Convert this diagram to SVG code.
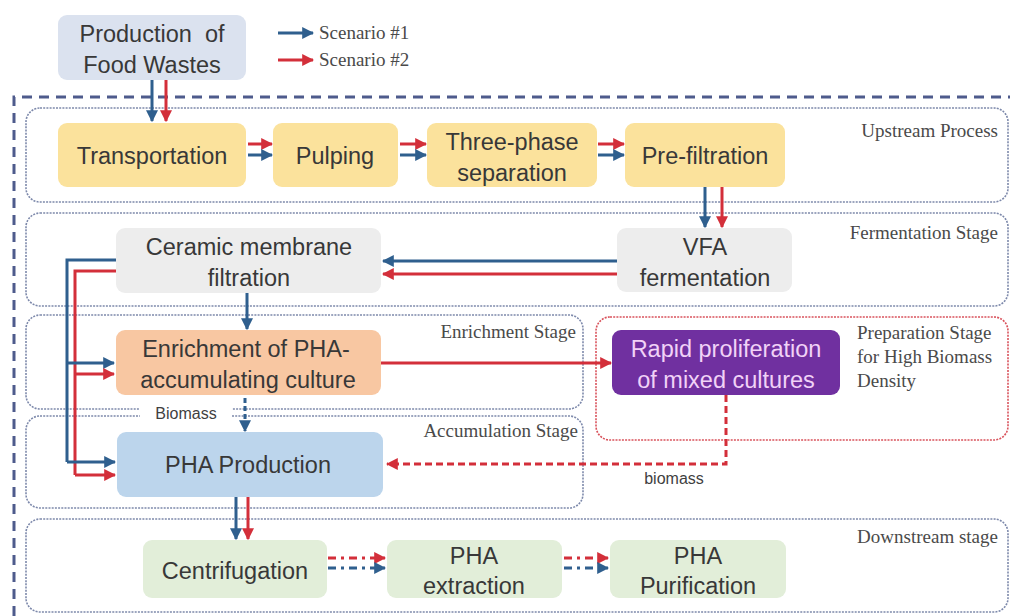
<svg xmlns="http://www.w3.org/2000/svg" width="1010" height="616" viewBox="0 0 1010 616">
  <defs>
    <marker id="ah-blue" viewBox="0 0 10 10" refX="9" refY="5" markerWidth="4" markerHeight="4" orient="auto" markerUnits="strokeWidth">
      <path d="M0,0 L10,5 L0,10 z" fill="#2f5f8e"/>
    </marker>
    <marker id="ah-red" viewBox="0 0 10 10" refX="9" refY="5" markerWidth="4" markerHeight="4" orient="auto" markerUnits="strokeWidth">
      <path d="M0,0 L10,5 L0,10 z" fill="#d32f3a"/>
    </marker>
  </defs>
  <style>
    .panel { fill: none; stroke: #7d89ab; stroke-width: 1.6; stroke-dasharray: 2 1.2; }
    .panel-red { fill: none; stroke: #d9535c; stroke-width: 1.6; stroke-dasharray: 2 1.2; }
    .outer { fill: none; stroke: #4e5b8c; stroke-width: 3; stroke-dasharray: 10 7; }
    .stage { font-family: "Liberation Serif", serif; font-size: 19px; fill: #4a4a4a; }
    .lbl { font-family: "Liberation Sans", Arial, sans-serif; font-size: 23.5px; fill: #383838; text-anchor: middle; }
    .lbl-light { fill: #f1d2f7; }
    .small { font-family: "Liberation Sans", Arial, sans-serif; font-size: 16px; fill: #3f3f3f; text-anchor: middle; }
    .b { fill: none; stroke: #2f5f8e; stroke-width: 3; }
    .r { fill: none; stroke: #d32f3a; stroke-width: 3; }
    .ba { marker-end: url(#ah-blue); }
    .ra { marker-end: url(#ah-red); }
    .dash { stroke-dasharray: 7 4; }
    .dashdot { stroke-dasharray: 8 5 3 5; }
  </style>

  <!-- stage panels -->
  <g id="panels">
    <path class="outer" d="M14,616 V97 H1010"/>
    <rect class="panel" x="26" y="108" width="982" height="94" rx="14"/>
    <rect class="panel" x="26" y="213" width="982" height="93" rx="14"/>
    <rect class="panel" x="26" y="315" width="557" height="94" rx="14"/>
    <rect class="panel" x="26" y="416" width="557" height="92" rx="14"/>
    <rect class="panel-red" x="596" y="317" width="412" height="123" rx="14"/>
    <rect class="panel" x="26" y="519" width="982" height="93" rx="14"/>
    <text class="stage" x="998" y="137" text-anchor="end">Upstream Process</text>
    <text class="stage" x="998" y="239" text-anchor="end">Fermentation Stage</text>
    <text class="stage" x="576" y="338" text-anchor="end">Enrichment Stage</text>
    <text class="stage" x="578" y="437" text-anchor="end">Accumulation Stage</text>
    <text class="stage" x="857" y="339">Preparation Stage</text>
    <text class="stage" x="857" y="363">for High Biomass</text>
    <text class="stage" x="857" y="387">Density</text>
    <text class="stage" x="998" y="543" text-anchor="end">Downstream stage</text>
  </g>

  <!-- legend -->
  <g id="legend">
    <line class="b ba" x1="278" y1="33" x2="313" y2="33" stroke-width="2.5"/>
    <line class="r ra" x1="278" y1="60" x2="313" y2="60" stroke-width="2.5"/>
    <text class="stage" x="319" y="39">Scenario #1</text>
    <text class="stage" x="319" y="66">Scenario #2</text>
  </g>

  <!-- nodes -->
  <g id="food-wastes">
    <rect x="58" y="15" width="188" height="65" rx="9" fill="#dbe2ef"/>
    <text class="lbl" x="152" y="42">Production&#160; of</text>
    <text class="lbl" x="152" y="73">Food Wastes</text>
  </g>
  <g id="transportation">
    <rect x="58" y="123" width="188" height="64" rx="9" fill="#fbe29c"/>
    <text class="lbl" x="152" y="164">Transportation</text>
  </g>
  <g id="pulping">
    <rect x="273" y="123" width="125" height="64" rx="9" fill="#fbe29c"/>
    <text class="lbl" x="335" y="164">Pulping</text>
  </g>
  <g id="three-phase">
    <rect x="427" y="123" width="170" height="64" rx="9" fill="#fbe29c"/>
    <text class="lbl" x="512" y="150">Three-phase</text>
    <text class="lbl" x="512" y="181">separation</text>
  </g>
  <g id="pre-filtration">
    <rect x="625" y="123" width="160" height="64" rx="9" fill="#fbe29c"/>
    <text class="lbl" x="705" y="164">Pre-filtration</text>
  </g>
  <g id="ceramic">
    <rect x="116" y="228" width="265" height="65" rx="9" fill="#ededed"/>
    <text class="lbl" x="249" y="255">Ceramic membrane</text>
    <text class="lbl" x="249" y="286">filtration</text>
  </g>
  <g id="vfa">
    <rect x="617" y="228" width="175" height="64" rx="9" fill="#ededed"/>
    <text class="lbl" x="705" y="255">VFA</text>
    <text class="lbl" x="705" y="286">fermentation</text>
  </g>
  <g id="enrichment">
    <rect x="116" y="330" width="265" height="65" rx="9" fill="#f8c7a2"/>
    <text class="lbl" x="246" y="357">Enrichment of PHA-</text>
    <text class="lbl" x="248" y="388">accumulating culture</text>
  </g>
  <g id="rapid">
    <rect x="612" y="330" width="228" height="65" rx="9" fill="#7030a0"/>
    <text class="lbl lbl-light" x="726" y="357">Rapid proliferation</text>
    <text class="lbl lbl-light" x="726" y="388">of mixed cultures</text>
  </g>
  <g id="pha-production">
    <rect x="117" y="432" width="266" height="65" rx="9" fill="#bcd5ec"/>
    <text class="lbl" x="248" y="473">PHA Production</text>
  </g>
  <g id="centrifugation">
    <rect x="143" y="540" width="184" height="58" rx="9" fill="#e2eed9"/>
    <text class="lbl" x="235" y="579">Centrifugation</text>
  </g>
  <g id="extraction">
    <rect x="387" y="540" width="175" height="58" rx="9" fill="#e2eed9"/>
    <text class="lbl" x="474" y="564">PHA</text>
    <text class="lbl" x="474" y="594">extraction</text>
  </g>
  <g id="purification">
    <rect x="610" y="540" width="176" height="58" rx="9" fill="#e2eed9"/>
    <text class="lbl" x="698" y="564">PHA</text>
    <text class="lbl" x="698" y="594">Purification</text>
  </g>

  <!-- connectors -->
  <g id="connectors">
    <line class="b ba" x1="152" y1="80" x2="152" y2="121"/>
    <line class="r ra" x1="166" y1="80" x2="166" y2="121"/>

    <line class="r ra" x1="248" y1="144" x2="272" y2="144"/>
    <line class="b ba" x1="248" y1="155" x2="272" y2="155"/>
    <line class="r ra" x1="400" y1="144" x2="426" y2="144"/>
    <line class="b ba" x1="400" y1="155" x2="426" y2="155"/>
    <line class="r ra" x1="598" y1="144" x2="624" y2="144"/>
    <line class="b ba" x1="598" y1="155" x2="624" y2="155"/>

    <line class="b ba" x1="705" y1="187" x2="705" y2="227"/>
    <line class="r ra" x1="722" y1="187" x2="722" y2="227"/>

    <line class="b ba" x1="617" y1="261" x2="383" y2="261"/>
    <line class="r ra" x1="617" y1="274" x2="383" y2="274"/>

    <line class="b ba" x1="247" y1="293" x2="247" y2="329"/>

    <path class="b" d="M116,260 H67 V462"/>
    <path class="r" d="M116,271 H75 V475"/>
    <line class="b ba" x1="67" y1="363" x2="114" y2="363"/>
    <line class="r ra" x1="75" y1="374" x2="114" y2="374"/>
    <line class="b ba" x1="67" y1="462" x2="115" y2="462"/>
    <line class="r ra" x1="75" y1="475" x2="115" y2="475"/>

    <line class="r ra" x1="381" y1="363" x2="611" y2="363"/>

    <rect x="140" y="404" width="92" height="16" fill="#ffffff"/>
    <line class="b ba" x1="245" y1="398" x2="245" y2="431" stroke-dasharray="5 3" stroke-width="2.5"/>
    <text class="small" x="186" y="419">Biomass</text>

    <path class="r dash" d="M726,395 V464 H387" marker-end="url(#ah-red)" stroke-width="2.5"/>
    <text class="small" x="674" y="484">biomass</text>

    <line class="b ba" x1="236" y1="497" x2="236" y2="539"/>
    <line class="r ra" x1="248" y1="497" x2="248" y2="539"/>

    <line class="r ra dashdot" x1="328" y1="558" x2="385" y2="558" stroke-width="2.5"/>
    <line class="b ba dashdot" x1="328" y1="568" x2="385" y2="568" stroke-width="2.5"/>
    <line class="r ra dashdot" x1="564" y1="558" x2="608" y2="558" stroke-width="2.5"/>
    <line class="b ba dashdot" x1="564" y1="568" x2="608" y2="568" stroke-width="2.5"/>
  </g>
</svg>
